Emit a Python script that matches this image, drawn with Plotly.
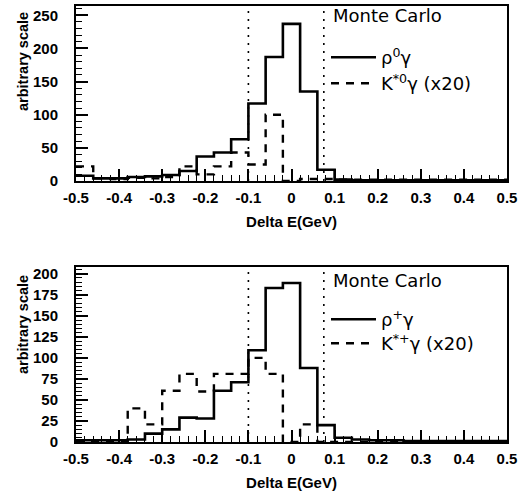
import numpy as np
import plotly.graph_objects as go
from plotly.subplots import make_subplots

# bin edges of Delta E (GeV)
bin_edges = [-0.50, -0.46, -0.42, -0.38, -0.34, -0.30, -0.26, -0.22, -0.18, -0.14,
             -0.10, -0.06, -0.02, 0.02, 0.06, 0.10, 0.14, 0.18, 0.22, 0.26,
             0.30, 0.34, 0.38, 0.42, 0.46, 0.50]

# top panel: rho0 gamma (solid) and K*0 gamma x20 (dashed)
top_rho = [8, 4, 4, 6, 7, 9, 15, 37, 43, 63, 117, 187, 237, 135, 17, 2,
           1, 1, 1, 1, 1, 1, 1, 1, 1]
top_kst = [22, 4, 3, 5, 4, 6, 22, 10, 22, 43, 25, 100, 0, 3, 3, 2,
           2, 2, 2, 2, 2, 2, 2, 2, 2]

# bottom panel: rho+ gamma (solid) and K*+ gamma x20 (dashed)
bot_rho = [2, 2, 2, 3, 10, 15, 29, 28, 61, 71, 109, 183, 189, 88, 20, 5,
           3, 2, 2, 1, 1, 1, 1, 1, 1]
bot_kst = [0, 0, 0, 40, 21, 61, 81, 60, 81, 81, 100, 81, 0, 21, 0, 0,
           0, 0, 0, 0, 0, 0, 0, 0, 0]

cut_lo, cut_hi = -0.10, 0.075

top_ticks = [0, 50, 100, 150, 200, 250]
bot_ticks = [0, 25, 50, 75, 100, 125, 150, 175, 200]
x_ticks = [-0.5, -0.4, -0.3, -0.2, -0.1, 0, 0.1, 0.2, 0.3, 0.4, 0.5]
x_ticklabels = ["-0.5", "-0.4", "-0.3", "-0.2", "-0.1", "0", "0.1", "0.2", "0.3", "0.4", "0.5"]

W, H = 520, 492
ML, MR, MT, MB = 76, 13, 6, 50
PW, PH = W - ML - MR, H - MT - MB


def py(pix):  # pixel y -> paper y
    return (H - MB - pix) / PH


def px(pix):  # pixel x -> paper x
    return (pix - ML) / PW


fig = make_subplots(rows=2, cols=1, vertical_spacing=0.2)
fig.update_layout(
    yaxis=dict(domain=[py(181), 1.0]),
    yaxis2=dict(domain=[0.0, py(267)]),
)


def steps(vals):
    return list(vals) + [vals[-1]]


black = "#000000"
lab_font = dict(family="DejaVu Sans", size=18, color=black)

fig.add_trace(go.Scatter(x=bin_edges, y=steps(top_rho), mode="lines", line_shape="hv",
                         line=dict(color=black, width=2.6), name="ρ<sup>0</sup>γ",
                         legend="legend"), row=1, col=1)
fig.add_trace(go.Scatter(x=bin_edges, y=steps(top_kst), mode="lines", line_shape="hv",
                         line=dict(color=black, width=2.4, dash="8px,7px"),
                         name="K<sup>*0</sup>γ (x20)", legend="legend2"),
              row=1, col=1)
fig.add_trace(go.Scatter(x=bin_edges, y=steps(bot_rho), mode="lines", line_shape="hv",
                         line=dict(color=black, width=2.6), name="ρ<sup>+</sup>γ",
                         legend="legend3"), row=2, col=1)
fig.add_trace(go.Scatter(x=bin_edges, y=steps(bot_kst), mode="lines", line_shape="hv",
                         line=dict(color=black, width=2.4, dash="8px,7px"),
                         name="K<sup>*+</sup>γ (x20)", legend="legend4"),
              row=2, col=1)

tickfont = dict(family="Liberation Sans", size=15, color=black, weight="bold")

for r in (1, 2):
    fig.update_xaxes(row=r, col=1, range=[-0.5, 0.5], tickmode="array", tickvals=x_ticks,
                     ticktext=x_ticklabels, ticks="inside", ticklen=12, tickwidth=1.5,
                     tickcolor=black, showline=True, linecolor=black, linewidth=2,
                     mirror=True, showgrid=False, zeroline=False, tickfont=tickfont,
                     ticklabelstandoff=2, automargin=False,
                     minor=dict(dtick=0.02, ticks="inside", ticklen=6, tickwidth=1.2,
                                tickcolor=black, showgrid=False),
                     title=dict(text="Delta E(GeV)", standoff=11,
                                font=dict(family="Liberation Sans", size=15, color=black,
                                          weight="bold")))

fig.update_yaxes(row=1, col=1, range=[0, 264], tickmode="array", tickvals=top_ticks,
                 minor=dict(dtick=10, ticks="inside", ticklen=6, tickwidth=1.2,
                            tickcolor=black, showgrid=False))
fig.update_yaxes(row=2, col=1, range=[0, 208], tickmode="array", tickvals=bot_ticks,
                 minor=dict(dtick=5, ticks="inside", ticklen=6, tickwidth=1.2,
                            tickcolor=black, showgrid=False))
fig.update_yaxes(ticks="inside", ticklen=12, tickwidth=1.5, tickcolor=black, showline=True,
                 linecolor=black, linewidth=2, mirror=True, showgrid=False, zeroline=False,
                 tickfont=tickfont, ticklabelstandoff=13, automargin=False)

for xr, yr in (("x", "y"), ("x2", "y2")):
    for c in (cut_lo, cut_hi):
        fig.add_shape(type="line", xref=xr, yref=yr + " domain", x0=c, x1=c, y0=0, y1=1,
                      line=dict(color=black, width=1.6, dash="2px,6px"))

ytitle_font = dict(family="Liberation Sans", size=14.5, color=black, weight="bold")
fig.add_annotation(text="arbitrary scale", xref="paper", yref="paper", x=px(23), y=py(62),
                   textangle=-90, showarrow=False, font=ytitle_font,
                   xanchor="center", yanchor="middle")
fig.add_annotation(text="arbitrary scale", xref="paper", yref="paper", x=px(23), y=py(325),
                   textangle=-90, showarrow=False, font=ytitle_font,
                   xanchor="center", yanchor="middle")
fig.add_annotation(text="Monte Carlo", xref="paper", yref="paper", x=px(331), y=py(15),
                   showarrow=False, font=lab_font, xanchor="left", yanchor="middle")
fig.add_annotation(text="Monte Carlo", xref="paper", yref="paper", x=px(331), y=py(280),
                   showarrow=False, font=lab_font, xanchor="left", yanchor="middle")

leg_common = dict(xanchor="left", yanchor="top", bgcolor="rgba(0,0,0,0)", borderwidth=0,
                  font=lab_font, itemwidth=45)
fig.update_layout(
    width=W, height=H,
    margin=dict(l=ML, r=MR, t=MT, b=MB, autoexpand=False),
    paper_bgcolor="white", plot_bgcolor="white",
    showlegend=True,
    legend=dict(x=px(326), y=py(57 - 18), **leg_common),
    legend2=dict(x=px(326), y=py(83 - 18), **leg_common),
    legend3=dict(x=px(326), y=py(319 - 18), **leg_common),
    legend4=dict(x=px(326), y=py(343 - 18), **leg_common),
)

fig.write_html("out.html", config={"displayModeBar": False},
               post_script="document.body.style.margin='0';document.body.style.overflow='hidden';")
